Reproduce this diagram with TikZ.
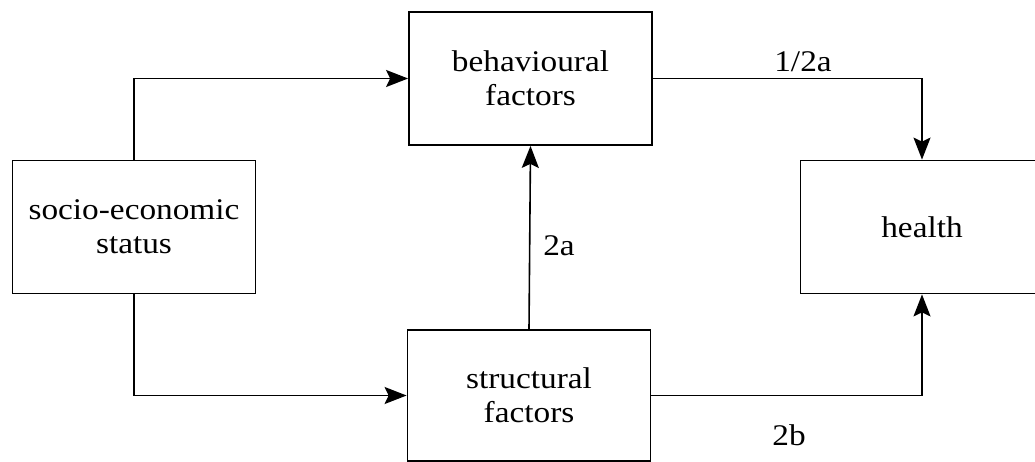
\documentclass[tikz,border=0pt]{standalone}
\usepackage{fontspec}
\setmainfont{Liberation Serif}[FakeStretch=1.11]
\usetikzlibrary{arrows.meta}
\begin{document}
\begin{tikzpicture}[x=1pt,y=-1pt,
  box/.style={draw, line width=1.8pt, rectangle, inner sep=0pt, align=center,
    minimum width=243pt, minimum height=133pt,
    font=\fontsize{30}{34}\selectfont},
  link/.style={line width=1.6pt, -{Stealth[length=22pt,width=17pt,inset=4pt]}},
  lbl/.style={font=\fontsize{30}{34}\selectfont, inner sep=0pt}]
  % page frame; the health box runs past its right edge
  \clip (0,0) rectangle (1035,462);
  \fill[white] (0,0) rectangle (1035,462);

  \node[box] (ses) at (134,227) {socio-economic\\status};
  \node[box] (beh) at (530.5,78.5) {behavioural\\factors};
  \node[box, minimum height=131pt] (str) at (529,395.5) {structural\\factors};
  \node[box] (health) at (922,227) {health};

  \draw[link] (ses.north) |- (beh.west);
  \draw[link] (ses.south) |- (str.west);
  \draw[link] (str.north) -- (beh.south);
  \draw[link] (beh.east) -| (health.north);
  \draw[link] (str.east) -| (health.south);

  \node[lbl] (l1) at (803,62) {1/2a};
  \node[lbl] (l2) at (559,246) {2a};
  \node[lbl] (l3) at (789,435) {2b};
\end{tikzpicture}
\end{document}
